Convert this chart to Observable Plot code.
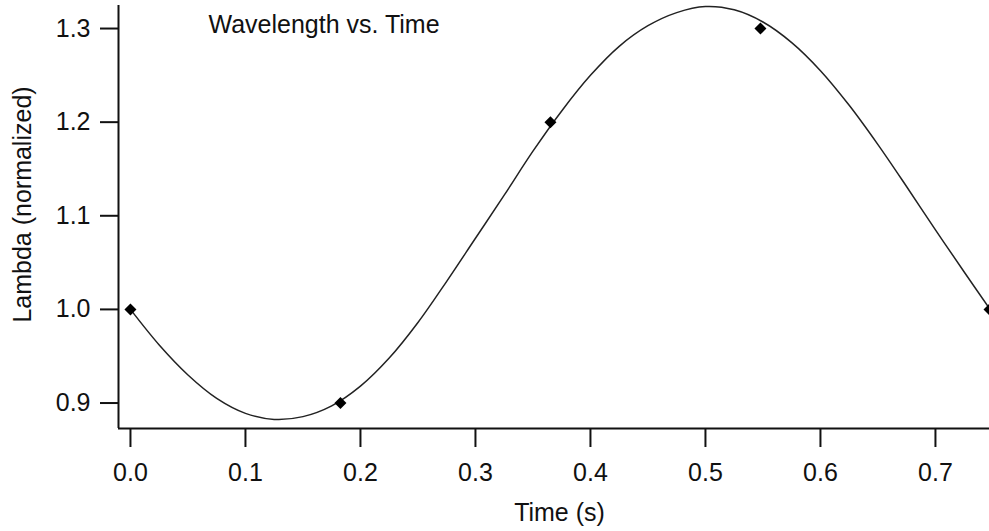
<!DOCTYPE html>
<html>
<head>
<meta charset="utf-8">
<script src="https://cdn.jsdelivr.net/npm/d3@7"></script>
<script src="https://cdn.jsdelivr.net/npm/@observablehq/plot@0.6"></script>
<style>
  html, body { margin: 0; padding: 0; background: #fff; }
  #chart svg { display: block; }
</style>
</head>
<body>
<div id="chart"></div>
<script>
// Measured data points (diamonds)
const pointTime = [0, 0.1826, 0.3652, 0.5478, 0.747];
const pointLambda = [1.0, 0.9, 1.2, 1.3, 1.0];

// Fitted curve
const curveTime = [0, 0.025, 0.05, 0.075, 0.1, 0.125, 0.15, 0.175, 0.2, 0.225,
  0.25, 0.275, 0.3, 0.325, 0.35, 0.375, 0.4, 0.425, 0.45, 0.475,
  0.5, 0.525, 0.55, 0.575, 0.6, 0.625, 0.65, 0.675, 0.7, 0.725, 0.747];
const curveLambda = [1.000, 0.962, 0.930, 0.905, 0.889, 0.8825, 0.8855, 0.897, 0.918, 0.948,
  0.986, 1.030, 1.076, 1.122, 1.169, 1.212, 1.250, 1.281, 1.303, 1.317,
  1.3235, 1.320, 1.307, 1.285, 1.255, 1.218, 1.176, 1.131, 1.085, 1.040, 1.001];

const xTicks = [0, 0.1, 0.2, 0.3, 0.4, 0.5, 0.6, 0.7];
const yTicks = [0.9, 1.0, 1.1, 1.2, 1.3];
const xDomain = [-0.0104, 0.747];
const yDomain = [0.8728, 1.3246];

const titleText = "Wavelength vs. Time";
const xLabel = "Time (s)";
const yLabel = "Lambda (normalized)";

const points = pointTime.map((t, i) => ({t, v: pointLambda[i]}));
const curve = curveTime.map((t, i) => ({t, v: curveLambda[i]}));

const ink = "#111";
const fmt = d3.format(".1f");

const chart = Plot.plot({
  width: 989,
  height: 531,
  marginLeft: 118,
  marginRight: 0,
  marginTop: 5,
  marginBottom: 103,
  style: {fontFamily: "'Liberation Sans', Arial, sans-serif", fontSize: "25px", color: ink, background: "#fff"},
  x: {domain: xDomain},
  y: {domain: yDomain},
  marks: [
    Plot.axisY({ticks: yTicks, tickFormat: fmt, tickSize: 18, tickPadding: 10, fontSize: 25, label: null, stroke: ink, strokeWidth: 2}),
    Plot.axisX({ticks: xTicks, tickFormat: fmt, tickSize: 19, tickPadding: 16, fontSize: 25, label: null, stroke: ink, strokeWidth: 2}),
    Plot.ruleX([xDomain[0]], {stroke: ink, strokeWidth: 2}),
    Plot.ruleY([yDomain[0]], {stroke: ink, strokeWidth: 2}),
    Plot.line(curve, {x: "t", y: "v", curve: "catmull-rom", stroke: "#222", strokeWidth: 1.5}),
    Plot.dot(points, {x: "t", y: "v", symbol: "diamond2", r: 5.4, fill: "#000", stroke: "none"}),
    Plot.text([titleText], {text: d => d, frameAnchor: "top-left", textAnchor: "start", lineAnchor: "bottom", dx: 90, dy: 27, fontSize: 25, fill: ink}),
    Plot.text([xLabel], {text: d => d, frameAnchor: "bottom", textAnchor: "middle", lineAnchor: "bottom", dx: 5.5, dy: 92, fontSize: 25, fill: ink}),
    Plot.text([yLabel], {text: d => d, frameAnchor: "left", textAnchor: "middle", lineAnchor: "bottom", rotate: -90, dx: -88, dy: -12.5, fontSize: 25, fill: ink})
  ]
});
document.getElementById("chart").appendChild(chart);
</script>
</body>
</html>
